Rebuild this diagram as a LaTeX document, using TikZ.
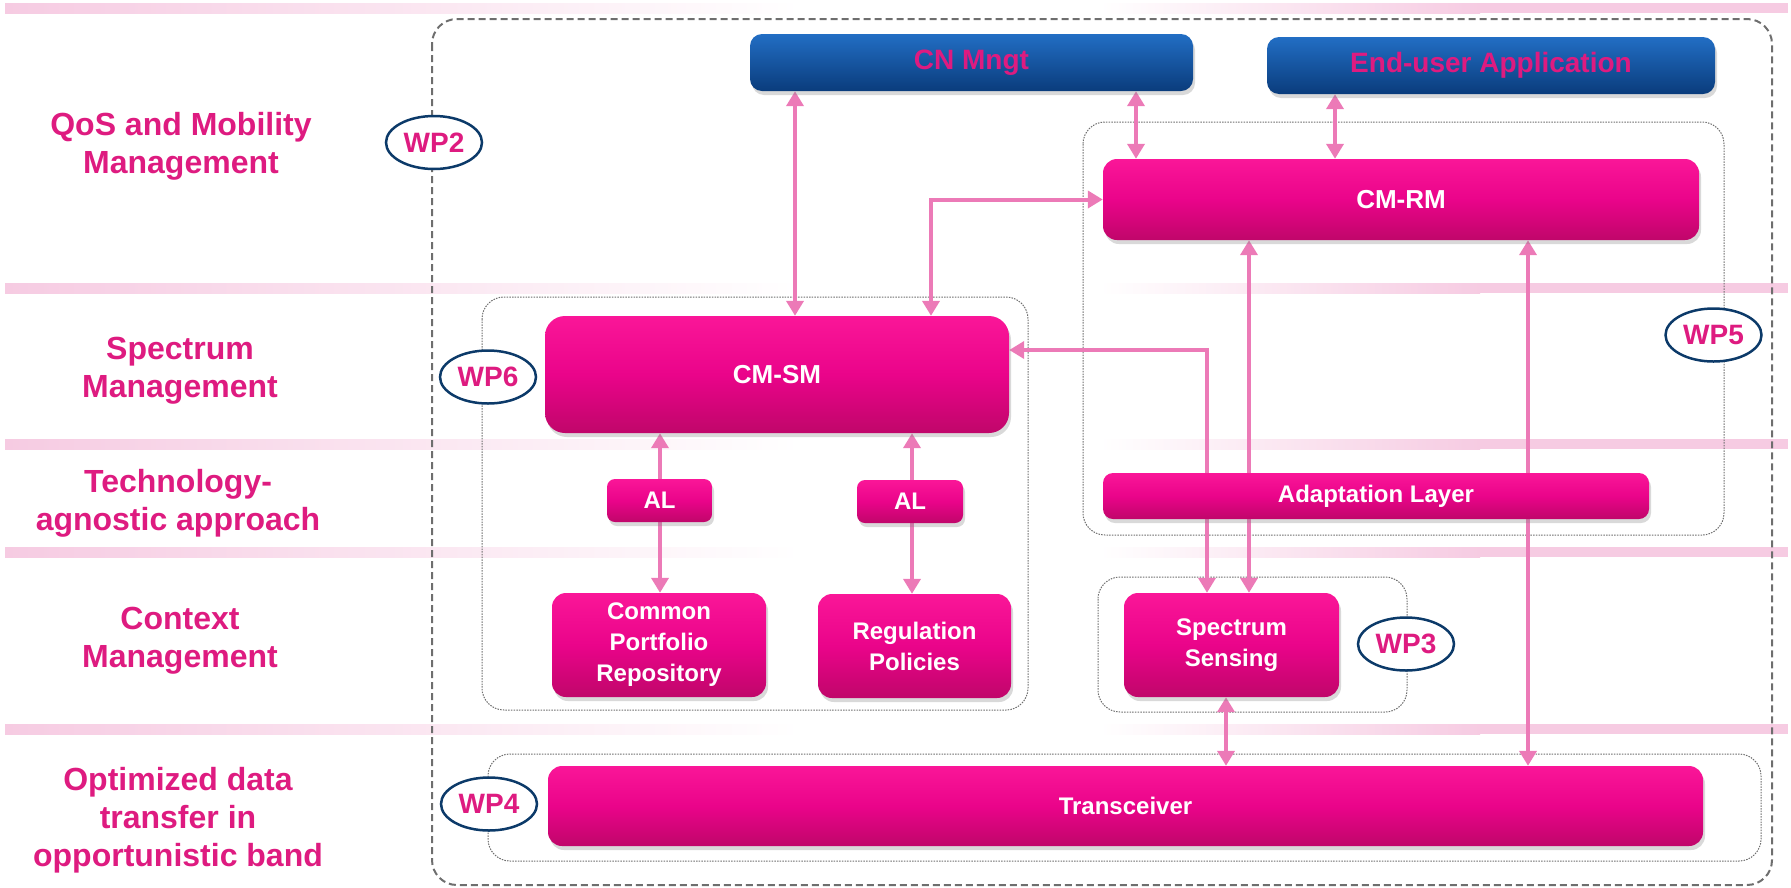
\documentclass[tikz,border=0pt]{standalone}
\usepackage{fontspec}
\setmainfont{Liberation Sans}
\usetikzlibrary{arrows.meta}
\usetikzlibrary{shadows}
\usetikzlibrary{shapes.geometric}
\definecolor{labpink}{RGB}{222,27,128}
\definecolor{bandpink}{RGB}{246,203,226}
\definecolor{boxtop}{RGB}{250,22,152}
\definecolor{boxmid}{RGB}{234,4,138}
\definecolor{boxbot}{RGB}{192,6,106}
\definecolor{bluetop}{RGB}{34,110,196}
\definecolor{bluebot}{RGB}{10,60,124}
\definecolor{linkpink}{RGB}{236,122,183}
\definecolor{wpnavy}{RGB}{12,58,105}
\definecolor{zonegray}{RGB}{110,110,110}
\pgfdeclarelayer{back}
\pgfdeclarelayer{mid}
\pgfsetlayers{back,mid,main}
\tikzset{
  layerlab/.style={text=labpink,font=\fontsize{32}{38}\selectfont\bfseries,align=center},
  outerzone/.style={draw=zonegray,line width=2pt,dash pattern=on 7pt off 4pt,rounded corners=25pt},
  zone/.style={draw=zonegray,line width=1pt,dash pattern=on 1.5pt off 1.2pt,rounded corners=22pt},
  wp/.style={ellipse,draw=wpnavy,line width=2.5pt,fill=white,text=labpink,
    font=\fontsize{28}{28}\selectfont\bfseries,inner sep=0pt,minimum width=96pt,minimum height=53pt},
  pinkbox/.style={rounded corners=#1,top color=boxtop,bottom color=boxbot,middle color=boxmid,
    text=white,font=\fontsize{24}{31}\selectfont\bfseries,align=center,inner sep=0pt,
    drop shadow={opacity=.3,shadow xshift=2pt,shadow yshift=-4pt}},
  pinkbox/.default=14pt,
  bigtext/.style={font=\fontsize{26}{31}\selectfont\bfseries},
  bluebox/.style={rounded corners=12pt,top color=bluetop,bottom color=bluebot,
    text=labpink,font=\fontsize{28}{28}\selectfont\bfseries,inner sep=0pt,
    drop shadow={opacity=.3,shadow xshift=2pt,shadow yshift=-4pt}},
  conn/.style={line width=4pt,draw=linkpink,
    {Triangle[width=17pt,length=15pt]}-{Triangle[width=17pt,length=15pt]}}
}

\begin{document}
\begin{tikzpicture}[x=1pt,y=-1pt]
  \useasboundingbox (0,0) rectangle (1791,887);

  % layer bands and work package zones
  \begin{pgfonlayer}{back}
    \foreach \y in {8,288,444,552,729}{
      \shade[left color=bandpink,right color=white] (5,\y-5) rectangle (800,\y+5);
      \shade[left color=white,right color=bandpink] (1100,\y-5) rectangle (1480,\y+5);
      \fill[bandpink] (1480,\y-5) rectangle (1788,\y+5);
    }
    \draw[outerzone] (432,19) rectangle (1772,885);
    \draw[zone] (1083,122) rectangle (1724,535);
    \draw[zone] (482,297) rectangle (1028,710);
    \draw[zone] (1098,577) rectangle (1407,712);
    \draw[zone] (488,754) rectangle (1761,861);
  \end{pgfonlayer}

  % layer names
  \node[layerlab] (qos) at (181,146) {QoS and Mobility\\Management};
  \node[layerlab] (spm) at (180,371) {Spectrum\\Management};
  \node[layerlab] (tag) at (178,503) {Technology-\\agnostic approach};
  \node[layerlab] (ctx) at (180,641) {Context\\Management};
  \node[layerlab] (opt) at (178,820) {Optimized data\\transfer in\\opportunistic band};

  % blocks
  \node[bluebox,minimum width=443pt,minimum height=57pt] (cn) at (971.5,62.5) {CN Mngt};
  \node[bluebox,minimum width=448pt,minimum height=57pt] (eua) at (1491,65.5) {End-user Application};
  \node[pinkbox,bigtext,minimum width=596pt,minimum height=81pt] (cmrm) at (1401,199.5) {CM-RM};
  \node[pinkbox=20pt,bigtext,minimum width=464pt,minimum height=117pt] (cmsm) at (777,374.5) {CM-SM};
  \node[pinkbox=8pt,minimum width=105pt,minimum height=43pt] (al1) at (659.5,500.5) {AL};
  \node[pinkbox=8pt,minimum width=106pt,minimum height=43pt] (al2) at (910,501.5) {AL};
  \node[pinkbox=10pt,minimum width=546pt,minimum height=46pt] (adl) at (1376,496) {Adaptation Layer};
  \node[pinkbox,minimum width=214pt,minimum height=104pt] (cpr) at (659,645) {Common\\Portfolio\\Repository};
  \node[pinkbox,minimum width=193pt,minimum height=104pt] (reg) at (914.5,646) {Regulation\\Policies};
  \node[pinkbox,minimum width=215pt,minimum height=104pt] (ss) at (1231.5,645) {Spectrum\\Sensing};
  \node[pinkbox,minimum width=1155pt,minimum height=80pt] (trx) at (1125.5,806) {Transceiver};

  % work packages
  \node[wp] (wp2) at (434,142.5) {WP2};
  \node[wp] (wp6) at (488,377) {WP6};
  \node[wp] (wp5) at (1713.5,335) {WP5};
  \node[wp] (wp3) at (1406,644) {WP3};
  \node[wp] (wp4) at (489,804) {WP4};

  % connectors
  \coordinate (c1) at (795,0);
  \coordinate (c2) at (931,0);
  \coordinate (c3) at (1136,0);
  \coordinate (c4) at (1335,0);
  \coordinate (c5) at (1207,350);
  \coordinate (c6) at (1249,0);
  \coordinate (c7) at (1528,0);
  \coordinate (c8) at (660,0);
  \coordinate (c9) at (912,0);
  \coordinate (c10) at (1226,0);
  \begin{pgfonlayer}{mid}
    \draw[conn] (cn.south -| c1) -- (cmsm.north -| c1);
    \draw[conn] (cmsm.north -| c2) |- (cmrm.west);
    \draw[conn] (cn.south -| c3) -- (cmrm.north -| c3);
    \draw[conn] (eua.south -| c4) -- (cmrm.north -| c4);
    \draw[conn] (cmsm.east |- c5) -| (ss.north -| c5);
    \draw[conn] (cmrm.south -| c6) -- (ss.north -| c6);
    \draw[conn] (cmrm.south -| c7) -- (trx.north -| c7);
    \draw[conn] (cmsm.south -| c8) -- (cpr.north -| c8);
    \draw[conn] (cmsm.south -| c9) -- (reg.north -| c9);
    \draw[conn] (ss.south -| c10) -- (trx.north -| c10);
  \end{pgfonlayer}
\end{tikzpicture}
\end{document}
